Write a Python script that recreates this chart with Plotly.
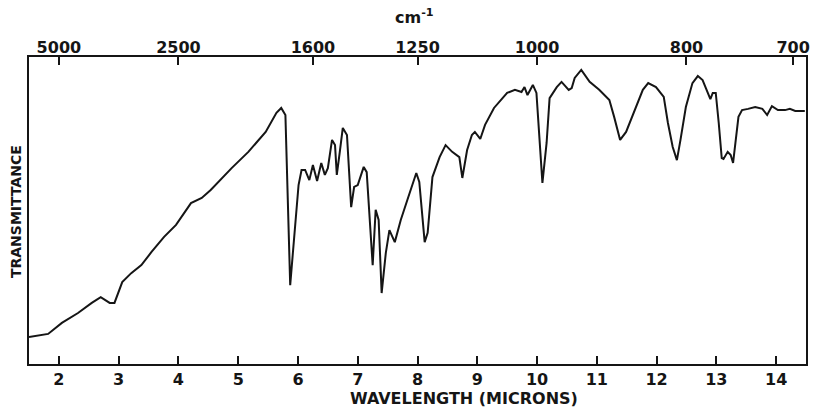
import plotly.graph_objects as go

# wavelength in microns
wavelength = [1.50, 1.82, 2.05, 2.32, 2.55, 2.70, 2.85, 2.93, 3.06, 3.21, 3.38, 3.55, 3.76, 3.96,
              4.21, 4.39, 4.54, 4.89, 5.17, 5.46, 5.64, 5.72, 5.79, 5.87, 6.01, 6.06, 6.12, 6.19,
              6.25, 6.32, 6.39, 6.45, 6.50, 6.57, 6.62, 6.65, 6.70, 6.75, 6.82, 6.89, 6.94, 7.00,
              7.10, 7.15, 7.25, 7.30, 7.35, 7.40, 7.47, 7.53, 7.62, 7.72, 7.83, 7.98, 8.03, 8.12,
              8.17, 8.25, 8.37, 8.47, 8.58, 8.70, 8.75, 8.83, 8.91, 8.96, 9.05, 9.13, 9.28, 9.50,
              9.63, 9.74, 9.79, 9.84, 9.93, 9.99, 10.09, 10.16, 10.21, 10.33, 10.41, 10.53, 10.58,
              10.63, 10.74, 10.83, 10.88, 11.04, 11.21, 11.29, 11.39, 11.49, 11.62, 11.77, 11.86,
              11.99, 12.12, 12.19, 12.27, 12.34, 12.40, 12.49, 12.60, 12.69, 12.77, 12.85, 12.90,
              12.94, 12.99, 13.04, 13.09, 13.12, 13.19, 13.24, 13.28, 13.37, 13.43, 13.53, 13.65,
              13.77, 13.85, 13.93, 14.03, 14.15, 14.23, 14.32, 14.48]
# transmittance (% of frame height)
transmittance = [8.8, 9.8, 13.4, 16.6, 19.9, 21.8, 19.9, 19.9, 26.7, 29.6, 32.2, 36.5, 41.4, 45.3,
                 52.4, 54.1, 56.7, 63.8, 69.1, 75.6, 81.8, 83.4, 81.1, 25.7, 58.3, 63.2, 63.2, 59.9,
                 64.8, 59.6, 65.5, 61.6, 63.8, 73.0, 71.3, 61.6, 69.1, 76.9, 74.6, 51.1, 57.7, 58.3,
                 64.2, 62.5, 32.2, 50.2, 46.9, 23.1, 36.2, 43.6, 39.7, 46.9, 53.4, 62.2, 59.3, 39.7,
                 42.7, 60.9, 67.4, 71.3, 69.1, 67.4, 60.6, 69.7, 74.6, 75.6, 73.3, 77.9, 83.4, 88.3,
                 89.3, 88.6, 90.2, 87.6, 90.9, 88.3, 59.0, 72.0, 86.6, 90.2, 91.9, 89.3, 89.9,
                 93.2, 95.8, 93.5, 91.9, 89.3, 86.0, 80.5, 73.0, 75.6, 81.8, 89.3, 91.5,
                 90.2, 87.0, 78.5, 70.7, 66.4, 73.0, 83.7, 91.5, 93.8, 92.5, 88.3, 86.3,
                 88.3, 88.3, 78.5, 67.1, 66.8, 69.1, 68.1, 65.5, 80.5, 82.7, 83.1, 83.7,
                 83.1, 81.1, 84.0, 82.7, 82.7, 83.1, 82.4, 82.4]

micron_ticks = [2, 3, 4, 5, 6, 7, 8, 9, 10, 11, 12, 13, 14]
micron_labels = ["2", "3", "4", "5", "6", "7", "8", "9", "10", "11", "12", "13", "14"]
wavenumber_labels = ["5000", "2500", "1600", "1250", "1000", "800", "700"]
wavenumbers = [5000, 2500, 1600, 1250, 1000, 800, 700]

FONT = "DejaVu Sans"
INK = "#151515"

fig = go.Figure()
fig.add_trace(go.Scatter(x=wavelength, y=transmittance, mode="lines",
                         line=dict(color=INK, width=2), showlegend=False, hoverinfo="skip"))
fig.add_trace(go.Scatter(x=[wavelength[0]], y=[transmittance[0]], xaxis="x2", mode="markers",
                         marker=dict(opacity=0), showlegend=False, hoverinfo="skip"))

fig.update_layout(
    width=816, height=408,
    margin=dict(l=29, r=6, t=57, b=44),
    paper_bgcolor="white", plot_bgcolor="white",
    font=dict(family=FONT, color=INK),
    xaxis=dict(range=[1.5, 14.5], tickvals=micron_ticks, ticktext=micron_labels,
               ticks="inside", ticklen=8, tickwidth=1.5, tickcolor=INK,
               showline=True, linewidth=2, linecolor=INK, mirror=True,
               showgrid=False, zeroline=False,
               tickfont=dict(family=FONT, size=16, color=INK, weight="bold")),
    xaxis2=dict(range=[1.5, 14.5], overlaying="x", side="top", anchor="y",
                tickvals=[10000 / w for w in wavenumbers], ticktext=wavenumber_labels,
                ticks="inside", ticklen=8, tickwidth=1.5, tickcolor=INK,
                showline=False, showgrid=False, zeroline=False,
                tickfont=dict(family=FONT, size=16, color=INK, weight="bold")),
    yaxis=dict(range=[0, 100], showticklabels=False, ticks="",
               showline=True, linewidth=2, linecolor=INK, mirror=True,
               showgrid=False, zeroline=False),
    annotations=[
        dict(text="WAVELENGTH (MICRONS)", xref="paper", yref="paper",
             x=(466 - 29) / 781, y=-(398 - 364) / 307, xanchor="center", yanchor="middle",
             showarrow=False, font=dict(family=FONT, size=16, color=INK, weight="bold")),
        dict(text="TRANSMITTANCE", xref="paper", yref="paper", textangle=-90,
             x=(16 - 29) / 781, y=(364 - 212) / 307, xanchor="center", yanchor="middle",
             showarrow=False, font=dict(family=FONT, size=14, color=INK, weight="bold")),
        dict(text="cm<sup>-1</sup>", xref="paper", yref="paper",
             x=(416 - 29) / 781, y=(364 - 17) / 307, xanchor="center", yanchor="middle",
             showarrow=False, font=dict(family=FONT, size=16, color=INK, weight="bold")),
    ],
)

fig.write_html("out.html")
